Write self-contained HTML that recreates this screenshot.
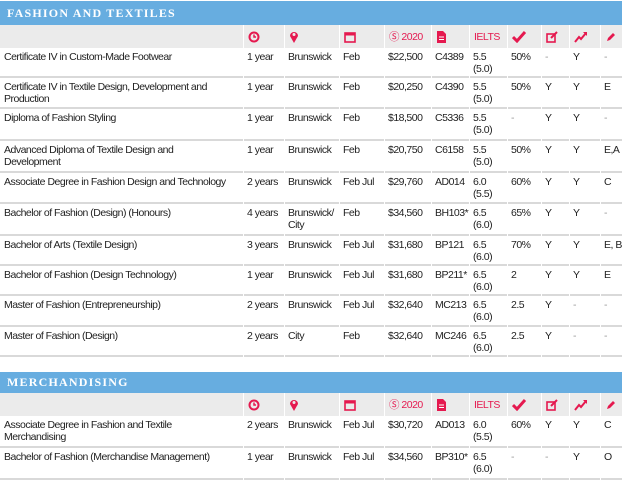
<!DOCTYPE html>
<html><head><meta charset="utf-8"><style>
*{margin:0;padding:0;box-sizing:border-box}
body{width:622px;height:480px;background:#fff;position:relative;overflow:hidden;font-family:"Liberation Sans",sans-serif;color:#222}
.banner{position:absolute;left:0;width:622px;background:#67ade0;color:#fff;font-size:12px;letter-spacing:1.2px;padding-left:7px;font-family:"Liberation Serif",serif;font-weight:bold}
table{position:absolute;left:-1px;width:624px;border-collapse:separate;border-spacing:1px 0;table-layout:fixed;font-size:10.5px;letter-spacing:-0.5px}
th{background:#ebebeb;height:23px;vertical-align:middle;color:#e5194f;font-weight:normal;text-align:left;padding-left:4px}
td{vertical-align:top;padding:3px 0 0 3px;line-height:12px;border-bottom:2px solid #d9d9d9;white-space:nowrap}
td.n{padding-left:4px}
.g{color:#999}
svg{display:block}
</style></head><body>
<div class="banner" style="top:1px;height:24px;line-height:24px">FASHION AND TEXTILES</div>
<table style="top:25px">
<colgroup><col style="width:243px"><col style="width:40px"><col style="width:54px"><col style="width:44px"><col style="width:46px"><col style="width:37px"><col style="width:37px"><col style="width:33px"><col style="width:27px"><col style="width:30px"><col style="width:28px"></colgroup>
<tr>
<th></th>
<th><svg width="12" height="12" viewBox="0 0 12 12"><circle cx="6" cy="6" r="4.5" fill="none" stroke="#e5194f" stroke-width="2"/><path d="M6 3.5V6H8" stroke="#e5194f" stroke-width="1.5" fill="none"/></svg></th>
<th><svg width="10" height="13" viewBox="0 0 10 13"><path d="M5 13L1 6A4 4 0 1 1 9 6Z" fill="#e5194f"/><circle cx="5" cy="4.5" r="1.5" fill="#ebebeb"/></svg></th>
<th><svg width="12" height="12" viewBox="0 0 12 12"><rect x="1" y="2" width="10" height="9" fill="none" stroke="#e5194f" stroke-width="1.6"/><rect x="1" y="2" width="10" height="2.5" fill="#e5194f"/></svg></th>
<th>Ⓢ 2020</th>
<th><svg width="10" height="12" viewBox="0 0 10 12"><path d="M1 0H7L10 3V12H1Z" fill="#e5194f"/><path d="M3 6H8M3 8.5H8" stroke="#fff"/></svg></th>
<th>IELTS</th>
<th><svg width="14" height="12" viewBox="0 0 14 12"><path d="M1 6L5 10L13 1" stroke="#e5194f" stroke-width="3" fill="none"/></svg></th>
<th><svg width="12" height="12" viewBox="0 0 12 12"><rect x="1" y="3" width="8" height="8" fill="none" stroke="#e5194f" stroke-width="1.6"/><path d="M5 7L11 1" stroke="#e5194f" stroke-width="2"/></svg></th>
<th><svg width="14" height="12" viewBox="0 0 14 12"><path d="M1 11L5 6L7 8L12 2" stroke="#e5194f" stroke-width="2" fill="none"/><path d="M9 1H13V5Z" fill="#e5194f"/></svg></th>
<th><svg width="12" height="12" viewBox="0 0 12 12"><path d="M2 10L3 7L8 2L10 4L5 9Z" fill="#e5194f"/></svg></th>
</tr>
<tr style="height:30px"><td class="n">Certificate IV in Custom-Made Footwear</td><td>1 year</td><td>Brunswick</td><td>Feb</td><td>$22,500</td><td>C4389</td><td>5.5<br>(5.0)</td><td>50%</td><td class="g">-</td><td>Y</td><td class="g">-</td></tr>
<tr style="height:31px"><td class="n">Certificate IV in Textile Design, Development and<br>Production</td><td>1 year</td><td>Brunswick</td><td>Feb</td><td>$20,250</td><td>C4390</td><td>5.5<br>(5.0)</td><td>50%</td><td>Y</td><td>Y</td><td>E</td></tr>
<tr style="height:32px"><td class="n">Diploma of Fashion Styling</td><td>1 year</td><td>Brunswick</td><td>Feb</td><td>$18,500</td><td>C5336</td><td>5.5<br>(5.0)</td><td class="g">-</td><td>Y</td><td>Y</td><td class="g">-</td></tr>
<tr style="height:32px"><td class="n">Advanced Diploma of Textile Design and<br>Development</td><td>1 year</td><td>Brunswick</td><td>Feb</td><td>$20,750</td><td>C6158</td><td>5.5<br>(5.0)</td><td>50%</td><td>Y</td><td>Y</td><td>E,A</td></tr>
<tr style="height:31px"><td class="n">Associate Degree in Fashion Design and Technology</td><td>2 years</td><td>Brunswick</td><td>Feb Jul</td><td>$29,760</td><td>AD014</td><td>6.0<br>(5.5)</td><td>60%</td><td>Y</td><td>Y</td><td>C</td></tr>
<tr style="height:32px"><td class="n">Bachelor of Fashion (Design) (Honours)</td><td>4 years</td><td>Brunswick/<br>City</td><td>Feb</td><td>$34,560</td><td>BH103*</td><td>6.5<br>(6.0)</td><td>65%</td><td>Y</td><td>Y</td><td class="g">-</td></tr>
<tr style="height:30px"><td class="n">Bachelor of Arts (Textile Design)</td><td>3 years</td><td>Brunswick</td><td>Feb Jul</td><td>$31,680</td><td>BP121</td><td>6.5<br>(6.0)</td><td>70%</td><td>Y</td><td>Y</td><td>E, B</td></tr>
<tr style="height:30px"><td class="n">Bachelor of Fashion (Design Technology)</td><td>1 year</td><td>Brunswick</td><td>Feb Jul</td><td>$31,680</td><td>BP211*</td><td>6.5<br>(6.0)</td><td>2</td><td>Y</td><td>Y</td><td>E</td></tr>
<tr style="height:31px"><td class="n">Master of Fashion (Entrepreneurship)</td><td>2 years</td><td>Brunswick</td><td>Feb Jul</td><td>$32,640</td><td>MC213</td><td>6.5<br>(6.0)</td><td>2.5</td><td>Y</td><td class="g">-</td><td class="g">-</td></tr>
<tr style="height:30px"><td class="n">Master of Fashion (Design)</td><td>2 years</td><td>City</td><td>Feb</td><td>$32,640</td><td>MC246</td><td>6.5<br>(6.0)</td><td>2.5</td><td>Y</td><td class="g">-</td><td class="g">-</td></tr>
</table>
<div class="banner" style="top:372px;height:21px;line-height:21px">MERCHANDISING</div>
<table style="top:393px">
<colgroup><col style="width:243px"><col style="width:40px"><col style="width:54px"><col style="width:44px"><col style="width:46px"><col style="width:37px"><col style="width:37px"><col style="width:33px"><col style="width:27px"><col style="width:30px"><col style="width:28px"></colgroup>
<tr>
<th style="height:21px"></th>
<th><svg width="12" height="12" viewBox="0 0 12 12"><circle cx="6" cy="6" r="4.5" fill="none" stroke="#e5194f" stroke-width="2"/><path d="M6 3.5V6H8" stroke="#e5194f" stroke-width="1.5" fill="none"/></svg></th>
<th><svg width="10" height="13" viewBox="0 0 10 13"><path d="M5 13L1 6A4 4 0 1 1 9 6Z" fill="#e5194f"/><circle cx="5" cy="4.5" r="1.5" fill="#ebebeb"/></svg></th>
<th><svg width="12" height="12" viewBox="0 0 12 12"><rect x="1" y="2" width="10" height="9" fill="none" stroke="#e5194f" stroke-width="1.6"/><rect x="1" y="2" width="10" height="2.5" fill="#e5194f"/></svg></th>
<th>Ⓢ 2020</th>
<th><svg width="10" height="12" viewBox="0 0 10 12"><path d="M1 0H7L10 3V12H1Z" fill="#e5194f"/><path d="M3 6H8M3 8.5H8" stroke="#fff"/></svg></th>
<th>IELTS</th>
<th><svg width="14" height="12" viewBox="0 0 14 12"><path d="M1 6L5 10L13 1" stroke="#e5194f" stroke-width="3" fill="none"/></svg></th>
<th><svg width="12" height="12" viewBox="0 0 12 12"><rect x="1" y="3" width="8" height="8" fill="none" stroke="#e5194f" stroke-width="1.6"/><path d="M5 7L11 1" stroke="#e5194f" stroke-width="2"/></svg></th>
<th><svg width="14" height="12" viewBox="0 0 14 12"><path d="M1 11L5 6L7 8L12 2" stroke="#e5194f" stroke-width="2" fill="none"/><path d="M9 1H13V5Z" fill="#e5194f"/></svg></th>
<th><svg width="12" height="12" viewBox="0 0 12 12"><path d="M2 10L3 7L8 2L10 4L5 9Z" fill="#e5194f"/></svg></th>
</tr>
<tr style="height:32px"><td class="n">Associate Degree in Fashion and Textile<br>Merchandising</td><td>2 years</td><td>Brunswick</td><td>Feb Jul</td><td>$30,720</td><td>AD013</td><td>6.0<br>(5.5)</td><td>60%</td><td>Y</td><td>Y</td><td>C</td></tr>
<tr style="height:32px"><td class="n">Bachelor of Fashion (Merchandise Management)</td><td>1 year</td><td>Brunswick</td><td>Feb Jul</td><td>$34,560</td><td>BP310*</td><td>6.5<br>(6.0)</td><td class="g">-</td><td class="g">-</td><td>Y</td><td>O</td></tr>
</table>
</body></html>
